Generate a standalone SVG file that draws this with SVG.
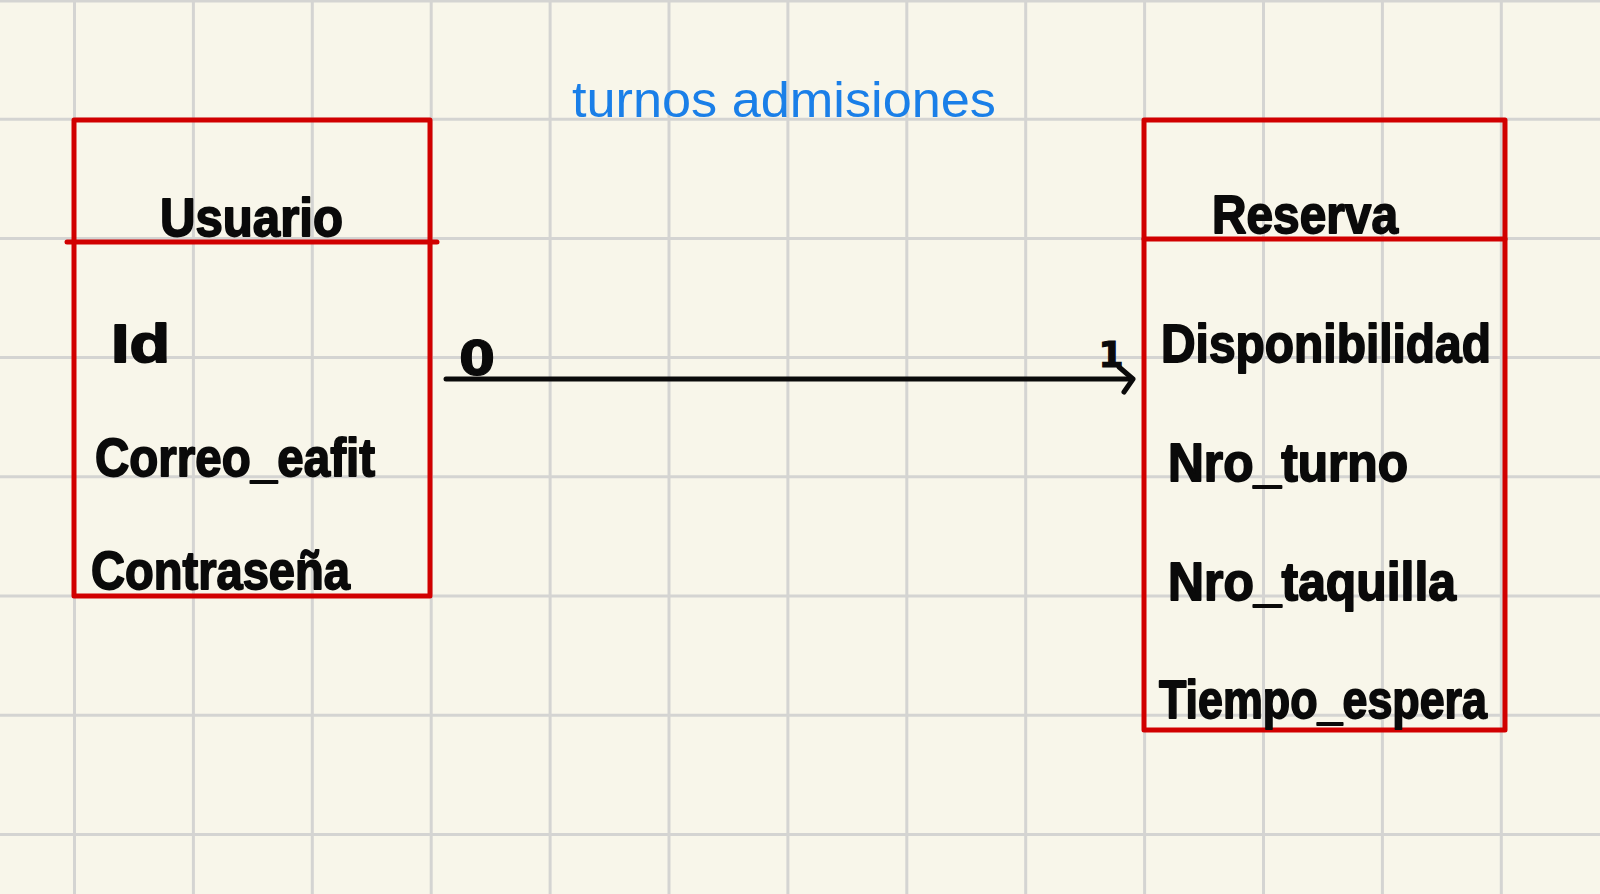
<svg xmlns="http://www.w3.org/2000/svg" width="1600" height="894" viewBox="0 0 1600 894">
  <defs>
    <style>
      .grid line { stroke: #d4d4d2; stroke-width: 3; }
      .box { fill: none; stroke: #d10000; stroke-width: 5; stroke-linejoin: round; }
      .sep { stroke: #d10000; stroke-width: 5; stroke-linecap: round; }
      .hand { font-family: "Liberation Sans", "DejaVu Sans", sans-serif; font-weight: bold; font-size: 54px; fill: #0a0a0a; stroke: #0a0a0a; stroke-width: 1.8; stroke-linejoin: round; }
      .title { font-family: "Liberation Sans", Arial, sans-serif; font-size: 50px; fill: #1a7fe8; }
      .edge { stroke: #0a0a0a; stroke-width: 5; stroke-linecap: round; fill: none; }
      .card { font-family: "DejaVu Sans", "Liberation Sans", sans-serif; font-weight: bold; fill: #0a0a0a; stroke: #0a0a0a; stroke-width: 1.2; text-anchor: middle; }
    </style>
    <marker id="arrow" markerUnits="userSpaceOnUse" markerWidth="24" markerHeight="30" refX="16" refY="14" orient="auto">
      <path d="M3,2 L17,14 L8,27" fill="none" stroke="#0a0a0a" stroke-width="5" stroke-linecap="round" stroke-linejoin="round"/>
    </marker>
  </defs>

  <rect x="0" y="0" width="1600" height="894" fill="#f8f6ea"/>

  <g class="grid" id="grid">
    <line x1="74.5" y1="0" x2="74.5" y2="894"/>
    <line x1="193.4" y1="0" x2="193.4" y2="894"/>
    <line x1="312.3" y1="0" x2="312.3" y2="894"/>
    <line x1="431.2" y1="0" x2="431.2" y2="894"/>
    <line x1="550.1" y1="0" x2="550.1" y2="894"/>
    <line x1="669" y1="0" x2="669" y2="894"/>
    <line x1="787.9" y1="0" x2="787.9" y2="894"/>
    <line x1="906.8" y1="0" x2="906.8" y2="894"/>
    <line x1="1025.7" y1="0" x2="1025.7" y2="894"/>
    <line x1="1144.6" y1="0" x2="1144.6" y2="894"/>
    <line x1="1263.5" y1="0" x2="1263.5" y2="894"/>
    <line x1="1382.4" y1="0" x2="1382.4" y2="894"/>
    <line x1="1501.3" y1="0" x2="1501.3" y2="894"/>
    <line x1="0" y1="1" x2="1600" y2="1"/>
    <line x1="0" y1="119.2" x2="1600" y2="119.2"/>
    <line x1="0" y1="238.4" x2="1600" y2="238.4"/>
    <line x1="0" y1="357.6" x2="1600" y2="357.6"/>
    <line x1="0" y1="476.8" x2="1600" y2="476.8"/>
    <line x1="0" y1="596" x2="1600" y2="596"/>
    <line x1="0" y1="715.2" x2="1600" y2="715.2"/>
    <line x1="0" y1="834.4" x2="1600" y2="834.4"/>
  </g>

  <g id="title">
    <text class="title" x="572" y="117" textLength="424" lengthAdjust="spacingAndGlyphs">turnos admisiones</text>
  </g>

  <g id="node-usuario">
    <rect class="box" x="74" y="120" width="356" height="476"/>
    <line class="sep" x1="67" y1="242" x2="437" y2="242"/>
    <text class="hand" x="160" y="236" textLength="183" lengthAdjust="spacingAndGlyphs">Usuario</text>
    <text class="hand" x="111" y="362" textLength="59" lengthAdjust="spacingAndGlyphs">Id</text>
    <text class="hand" x="95" y="476" textLength="280" lengthAdjust="spacingAndGlyphs">Correo_eafit</text>
    <text class="hand" x="91" y="589" textLength="259" lengthAdjust="spacingAndGlyphs">Contraseña</text>
  </g>

  <g id="node-reserva">
    <rect class="box" x="1144" y="120" width="361" height="610"/>
    <line class="sep" x1="1144" y1="239" x2="1505" y2="239"/>
    <text class="hand" x="1212" y="233" textLength="186" lengthAdjust="spacingAndGlyphs">Reserva</text>
    <text class="hand" x="1161" y="362" textLength="330" lengthAdjust="spacingAndGlyphs">Disponibilidad</text>
    <text class="hand" x="1168" y="481" textLength="240" lengthAdjust="spacingAndGlyphs">Nro_turno</text>
    <text class="hand" x="1168" y="600" textLength="288" lengthAdjust="spacingAndGlyphs">Nro_taquilla</text>
    <text class="hand" x="1159" y="718" textLength="328" lengthAdjust="spacingAndGlyphs">Tiempo_espera</text>
  </g>

  <g id="connectors">
    <line class="edge" x1="446" y1="379" x2="1132" y2="379" marker-end="url(#arrow)"/>
    <text class="card" x="477" y="375" font-size="48" textLength="36" lengthAdjust="spacingAndGlyphs">0</text>
    <text class="card" x="1111" y="367" font-size="36">1</text>
  </g>
</svg>
